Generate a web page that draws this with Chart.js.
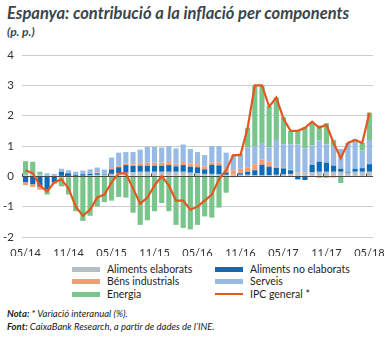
<!DOCTYPE html>
<html>
<head>
<meta charset="utf-8">
<script src="https://cdn.jsdelivr.net/npm/chart.js@4"></script>
<style>
  body { margin: 0; width: 389px; height: 338px; background: #fff; font-family: Lato, "Open Sans", sans-serif; color: #222; position: relative; overflow: hidden; }
  .title { position: absolute; left: 7px; top: 3px; font-size: 16.5px; font-weight: bold; font-style: italic; color: #3a454c; white-space: nowrap; }
  .sub { position: absolute; left: 7px; top: 24px; font-size: 12px; font-style: italic; font-weight: bold; color: #3a454c; }
  #wrap { position: absolute; left: 0; top: 40px; width: 389px; height: 216px; }
  .leg { position: absolute; font-size: 10.5px; white-space: nowrap; line-height: 12px; color: #1e1e1e; }
  .sw { position: absolute; width: 28px; height: 5px; }
  .note { position: absolute; left: 7px; font-size: 9.5px; font-style: italic; white-space: nowrap; }
  .note b { font-weight: bold; }
</style>
</head>
<body>
<div class="title">Espanya: contribució a la inflació per components</div>
<div class="sub">(p. p.)</div>
<div id="wrap"><canvas id="chart"></canvas></div>
<div id="legend"></div>
<div class="note" style="top:308px"><b>Nota:</b> * Variació interanual (%).</div>
<div class="note" style="top:321px"><b>Font:</b> CaixaBank Research, a partir de dades de l’INE.</div>
<script>
// monthly, 05/14 .. 05/18
const months = [
  '05/14','06/14','07/14','08/14','09/14','10/14','11/14','12/14',
  '01/15','02/15','03/15','04/15','05/15','06/15','07/15','08/15','09/15','10/15','11/15','12/15',
  '01/16','02/16','03/16','04/16','05/16','06/16','07/16','08/16','09/16','10/16','11/16','12/16',
  '01/17','02/17','03/17','04/17','05/17','06/17','07/17','08/17','09/17','10/17','11/17','12/17',
  '01/18','02/18','03/18','04/18','05/18'
];

const alimentsElaborats = [
  0.02, 0.02, 0.02, 0.0, 0.0, 0.0, 0.0, 0.0,
  0.02, 0.03, 0.05, 0.05, 0.08, 0.1, 0.12, 0.14, 0.15, 0.15, 0.15, 0.15,
  0.15, 0.15, 0.15, 0.12, 0.1, 0.08, 0.08, 0.06, 0.05, 0.05, 0.05, 0.05,
  0.03, 0.03, 0.04, 0.05, 0.06, 0.08, 0.1, 0.12, 0.13, 0.15, 0.15, 0.15,
  0.15, 0.12, 0.15, 0.15, 0.15
];
const alimentsNoElaborats = [
  -0.19, -0.26, -0.34, -0.43, -0.2, 0.15, 0.1, 0.05,
  0.05, 0.05, 0.05, 0.02, 0.15, 0.2, 0.25, 0.2, 0.2, 0.2, 0.2, 0.2,
  0.22, 0.18, 0.22, 0.2, 0.2, 0.15, 0.3, 0.3, 0.08, 0.0, 0.05, 0.1,
  0.17, 0.35, 0.28, 0.23, 0.2, 0.12, -0.1, -0.12, 0.25, 0.33, 0.3, 0.2,
  0.1, 0.03, 0.1, 0.12, 0.25
];
const bensIndustrials = [
  -0.1, -0.09, -0.1, -0.04, -0.03, -0.03, -0.03, -0.02,
  -0.02, 0.0, 0.02, 0.03, 0.04, 0.05, 0.06, 0.06, 0.08, 0.1, 0.1, 0.1,
  0.1, 0.1, 0.1, 0.1, 0.1, 0.1, 0.08, 0.1, 0.12, 0.15, 0.15, 0.15,
  0.2, 0.17, 0.17, 0.05, 0.04, 0.03, 0.03, 0.02, 0.0, -0.05, -0.05, -0.04,
  0.0, 0.0, 0.0, 0.0, 0.0
];
const serveis = [
  0.03, 0.03, 0.03, 0.1, 0.08, 0.1, 0.1, 0.1,
  0.12, 0.15, 0.17, 0.12, 0.35, 0.43, 0.37, 0.4, 0.45, 0.52, 0.52, 0.5,
  0.53, 0.49, 0.58, 0.48, 0.4, 0.37, 0.54, 0.54, 0.53, 0.5, 0.45, 0.65,
  0.6, 0.55, 0.46, 0.87, 0.75, 0.82, 0.92, 0.78, 0.64, 0.7, 0.6, 0.65,
  0.65, 0.95, 0.9, 0.58, 0.8
];
const energia = [
  0.45, 0.43, 0.1, -0.13, -0.02, -0.3, -0.57, -1.13,
  -1.45, -1.3, -1.0, -0.85, -0.8, -0.68, -0.7, -1.2, -1.6, -1.45, -1.15, -0.88,
  -1.15, -1.6, -1.7, -1.75, -1.6, -1.32, -1.36, -1.03, -0.54, -0.03, 0.05, 0.65,
  2.0, 1.9, 1.37, 1.4, 0.9, 0.45, 0.44, 0.7, 0.75, 0.5, 0.7, 0.2,
  -0.22, 0.0, 0.07, 0.25, 0.9
];
const ipcGeneral = [
  0.2, 0.1, -0.3, -0.5, -0.2, -0.1, -0.4, -1.0,
  -1.3, -1.1, -0.7, -0.6, -0.2, 0.1, 0.1, -0.4, -0.9, -0.7, -0.3, 0.0,
  -0.3, -0.8, -0.8, -1.1, -1.0, -0.8, -0.6, -0.1, 0.2, 0.7, 0.7, 1.6,
  3.0, 3.0, 2.3, 2.6, 1.9, 1.5, 1.5, 1.6, 1.8, 1.6, 1.7, 1.1,
  0.6, 1.1, 1.2, 1.1, 2.1
];
const yTicks = [-2, -1, 0, 1, 2, 3, 4];

const series = [
  { label: 'Aliments elaborats', data: alimentsElaborats, color: '#b6bfc5' },
  { label: 'Aliments no elaborats', data: alimentsNoElaborats, color: '#0b6bb8' },
  { label: 'Béns industrials', data: bensIndustrials, color: '#f49d74' },
  { label: 'Serveis', data: serveis, color: '#98bbe6' },
  { label: 'Energia', data: energia, color: '#79c58b' }
];
const lineColor = '#e4571e';

const datasets = series.map(s => ({
  type: 'bar',
  label: s.label,
  data: s.data,
  backgroundColor: s.color,
  borderWidth: 0,
  barPercentage: 0.72,
  categoryPercentage: 1,
  stack: 'comp',
  order: 1
}));
datasets.push({
  type: 'line',
  label: 'IPC general *',
  data: ipcGeneral,
  borderColor: lineColor,
  borderWidth: 2.2,
  pointRadius: 0,
  tension: 0,
  stack: 'ipc',
  order: 0
});

// zero line with small ticks, drawn over the bars but under the IPC line
const zeroLine = {
  id: 'zeroLine',
  afterDatasetDraw(chart, args) {
    if (args.index !== 0) return;
    const ctx = chart.ctx;
    const x = chart.scales.x, y = chart.scales.y;
    const y0 = Math.round(y.getPixelForValue(0)) + 0.5;
    const half = (x.getPixelForValue(1) - x.getPixelForValue(0)) / 2;
    ctx.save();
    ctx.strokeStyle = '#4a4a4a';
    ctx.lineWidth = 1;
    ctx.beginPath();
    ctx.moveTo(chart.chartArea.left, y0);
    ctx.lineTo(chart.chartArea.right, y0);
    months.forEach((m, i) => {
      if (i % 6 !== 0) return;
      const px = Math.round(x.getPixelForValue(i) - half) + 0.5;
      ctx.moveTo(px, y0);
      ctx.lineTo(px, y0 - 3);
    });
    ctx.stroke();
    ctx.restore();
  }
};

new Chart(document.getElementById('chart'), {
  data: { labels: months, datasets: datasets },
  options: {
    responsive: true,
    maintainAspectRatio: false,
    animation: false,
    layout: { padding: { left: 0, right: 16, top: 15, bottom: 0 } },
    plugins: { legend: { display: false }, tooltip: { enabled: false } },
    scales: {
      x: {
        stacked: true,
        grid: { display: false },
        border: { display: false },
        ticks: {
          autoSkip: false,
          maxRotation: 0,
          color: '#333',
          font: { family: 'Lato', size: 11 },
          padding: 2,
          callback: (v, i) => (i % 6 === 0 ? months[i] : '')
        },
        afterFit: s => { s.height = 19; }
      },
      y: {
        stacked: true,
        min: yTicks[0],
        max: yTicks[yTicks.length - 1],
        afterBuildTicks: s => { s.ticks = yTicks.map(v => ({ value: v })); },
        grid: { color: '#cdcdcd', lineWidth: 1, drawTicks: false },
        border: { display: false },
        ticks: { color: '#333', font: { family: 'Lato', size: 11.5 }, padding: 8 },
        afterFit: s => { s.width = 22; }
      }
    }
  },
  plugins: [zeroLine]
});

// two-column legend under the chart
const legendItems = series.map(s => ({ label: s.label, color: s.color, line: false }))
  .concat([{ label: 'IPC general *', color: lineColor, line: true }]);
const legendEl = document.getElementById('legend');
legendItems.forEach((it, n) => {
  const col = n % 2, row = Math.floor(n / 2);
  const sx = col === 0 ? 72 : 215;
  const cy = 269 + row * 12.5;
  const sw = document.createElement('div');
  sw.className = 'sw';
  sw.style.left = sx + 'px';
  sw.style.background = it.color;
  if (it.line) { sw.style.height = '2px'; sw.style.top = (cy - 1) + 'px'; }
  else { sw.style.top = (cy - 2.5) + 'px'; }
  legendEl.appendChild(sw);
  const tx = document.createElement('div');
  tx.className = 'leg';
  tx.textContent = it.label;
  tx.style.left = (sx + 35) + 'px';
  tx.style.top = (cy - 6.5) + 'px';
  legendEl.appendChild(tx);
});
</script>
</body>
</html>
